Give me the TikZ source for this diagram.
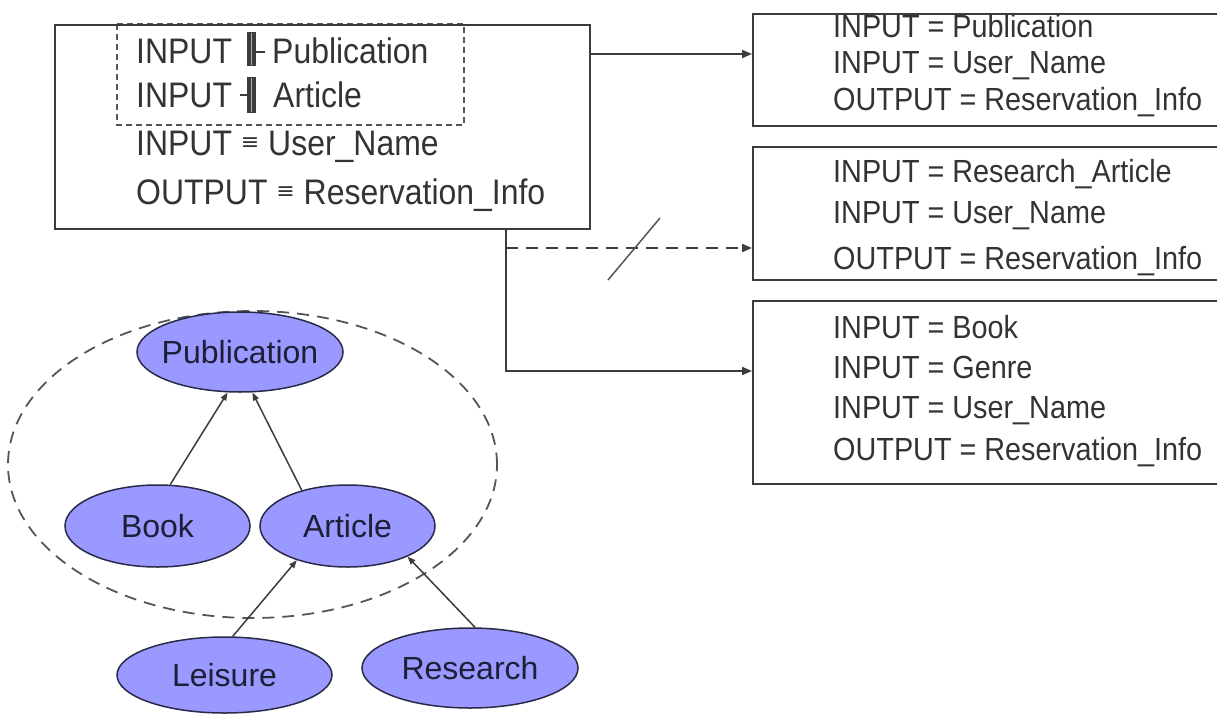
\documentclass[tikz,border=0pt]{standalone}
\usepackage{fontspec}
\setmainfont{Liberation Sans}
\newfontfamily\boxfont{Liberation Sans}[FakeStretch=0.9]
\newfontfamily\eqvfont{DejaVu Sans}
\usetikzlibrary{arrows.meta,shapes.geometric}

\definecolor{lineg}{HTML}{3C3C3C}
\definecolor{dashg}{HTML}{555555}
\definecolor{txtg}{HTML}{333333}
\definecolor{classfill}{HTML}{9999FF}
\definecolor{classline}{HTML}{2A2A48}
\definecolor{classtxt}{HTML}{1E1E36}

\tikzset{
  frame/.style={draw=lineg, line width=2pt, anchor=north west, inner sep=0pt},
  bigtxt/.style={anchor=base west, inner sep=0pt, text=txtg,
    font=\boxfont\fontsize{35.5}{40}\selectfont},
  smalltxt/.style={anchor=base west, inner sep=0pt, text=txtg,
    font=\boxfont\fontsize{32}{38}\selectfont},
  cls/.style={ellipse, draw=classline, line width=1.5pt, fill=classfill, inner sep=0pt},
  clstxt/.style={text=classtxt, inner sep=0pt, font=\fontsize{32}{38}\selectfont},
  link/.style={draw=lineg, line width=1.8pt, -{Triangle[length=10pt,width=8pt]}},
  isa/.style={draw=lineg, line width=1.5pt, -{Triangle[length=8pt,width=6pt]}},
  groupline/.style={draw=dashg, line width=1.8pt, dash pattern=on 12pt off 8pt},
  finedash/.style={draw=dashg, line width=1.5pt, dash pattern=on 6pt off 4pt},
}
\newcommand{\eqv}{\raisebox{6pt}{\eqvfont\fontsize{22}{24}\selectfont ≡}}

\begin{document}
\begin{tikzpicture}[x=1pt, y=-1pt]
\useasboundingbox (0,0) rectangle (1217,715);
\clip (0,0) rectangle (1217,715);

% ---------- service request (left) ----------
\draw[finedash] (117,24) rectangle (464,125);
\node[frame, minimum width=535, minimum height=204] (req) at (54,24) {};

\node[bigtxt] (r1a) at (136,63) {INPUT};
\fill[lineg] (247,32) rectangle (256,66);
\draw[white!60!lineg, line width=0.8pt] (251.5,33) -- (251.5,65);
\draw[lineg, line width=2pt] (256,52) -- (265,52);
\node[bigtxt] (r1b) at (272,63) {Publication};

\node[bigtxt] (r2a) at (136,107) {INPUT};
\draw[lineg, line width=2pt] (240,95) -- (247,95);
\fill[lineg] (247,77) rectangle (256,113);
\draw[white!60!lineg, line width=0.8pt] (251.5,78) -- (251.5,112);
\node[bigtxt] (r2b) at (273,107) {Article};

\node[bigtxt] (r3) at (136,155) {INPUT \eqv{} User\_Name};
\node[bigtxt] (r4) at (136,204) {OUTPUT \eqv{} Reservation\_Info};

% ---------- advertised services (right) ----------
\node[frame, minimum width=480, minimum height=112] (s1) at (752,13) {};
\node[smalltxt] (s1a) at (833,37)  {INPUT = Publication};
\node[smalltxt] (s1b) at (833,73)  {INPUT = User\_Name};
\node[smalltxt] (s1c) at (833,110) {OUTPUT = Reservation\_Info};

\node[frame, minimum width=480, minimum height=133] (s2) at (752,146) {};
\node[smalltxt] (s2a) at (833,182) {INPUT = Research\_Article};
\node[smalltxt] (s2b) at (833,223) {INPUT = User\_Name};
\node[smalltxt] (s2c) at (833,269) {OUTPUT = Reservation\_Info};

\node[frame, minimum width=480, minimum height=183] (s3) at (752,300) {};
\node[smalltxt] (s3a) at (833,338) {INPUT = Book};
\node[smalltxt] (s3b) at (833,378) {INPUT = Genre};
\node[smalltxt] (s3c) at (833,418) {INPUT = User\_Name};
\node[smalltxt] (s3d) at (833,460) {OUTPUT = Reservation\_Info};

% ---------- matching connectors ----------
\coordinate (in1) at (752,54);
\coordinate (in2) at (752,248);
\coordinate (in3) at (752,371);
\coordinate (fork) at (506,0);
\draw[link] (req.east |- in1) -- (in1);
\draw[link] (req.south -| fork) |- (in3);
\draw[link, dash pattern=on 12pt off 8pt] (fork |- in2) -- (in2);
\coordinate (cut1) at (608,280);
\coordinate (cut2) at (660,218);
\draw[draw=dashg, line width=1.5pt] (cut1) -- (cut2);

% ---------- ontology ----------
\node[groupline, ellipse, minimum width=489, minimum height=307, inner sep=0pt] (grp) at (252.5,464.5) {};

\node[cls, minimum width=206, minimum height=80, label={[clstxt]center:Publication}] (pub) at (240,352) {};
\node[cls, minimum width=185, minimum height=82, label={[clstxt]center:Book}] (book) at (157.5,526) {};
\node[cls, minimum width=175, minimum height=82, label={[clstxt]center:Article}] (art) at (347.5,526) {};
\node[cls, minimum width=215, minimum height=76, label={[clstxt]center:Leisure}] (lei) at (224.5,675) {};
\node[cls, minimum width=216, minimum height=80, label={[clstxt]center:Research}] (res) at (470,668) {};

\draw[isa] (book.73) -- (pub.253);
\draw[isa] (art.142) -- (pub.287);
\draw[isa] (lei.78) -- (art.214);
\draw[isa] (res.83) -- (art.333);
\end{tikzpicture}
\end{document}
